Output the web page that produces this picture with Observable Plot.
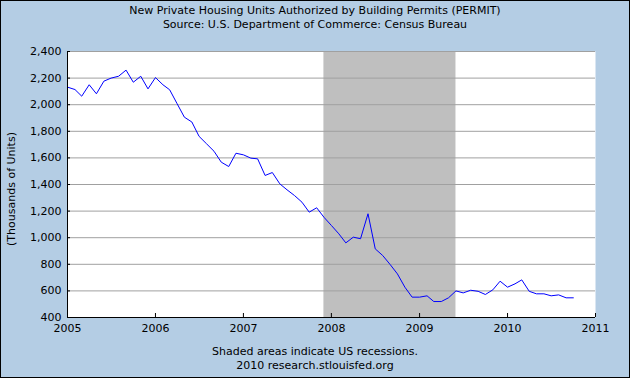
<!DOCTYPE html>
<html><head><meta charset="utf-8">
<script src="https://cdn.jsdelivr.net/npm/d3@7"></script>
<script src="https://cdn.jsdelivr.net/npm/@observablehq/plot@0.6"></script>
<style>
body{margin:0;background:#fff}
#wrap{position:relative;width:630px;height:378px;background:#b4cde4;font-family:"DejaVu Sans",sans-serif;overflow:hidden;color:#000}
#wrap svg{position:absolute;left:0;top:0}
.t{position:absolute;left:0;width:630px;text-align:center;font-size:11px;line-height:14px;white-space:nowrap}
#ylab{position:absolute;left:12px;top:189px;font-size:11px;line-height:14px;white-space:nowrap;transform:translate(-50%,-50%) rotate(-90deg)}
#border{position:absolute;left:0;top:0;width:630px;height:378px;box-sizing:border-box;border:1px solid #000;pointer-events:none}
</style>
</head><body>
<div id="wrap">
  <div class="t" style="top:4px">New Private Housing Units Authorized by Building Permits (PERMIT)</div>
  <div class="t" style="top:18px">Source: U.S. Department of Commerce: Census Bureau</div>
  <div class="t" style="top:345px">Shaded areas indicate US recessions.</div>
  <div class="t" style="top:359px">2010 research.stlouisfed.org</div>
  <div id="ylab">(Thousands of Units)</div>
  <div id="border"></div>
</div>
<script>
const startMonth = "2005-01-01";
const permits = [
  2132, 2114, 2064, 2150, 2082, 2177, 2200, 2214, 2260, 2169, 2214, 2119,
  2204, 2150, 2112, 2007, 1906, 1870, 1762, 1706, 1650, 1568, 1535, 1635,
  1623, 1598, 1593, 1468, 1490, 1405, 1360, 1317, 1267, 1192, 1225, 1154,
  1092, 1029, 961, 1004, 992, 1180, 916, 866, 798, 728, 628, 553,
  553, 563, 520, 520, 548, 600, 585, 605, 597, 573, 608, 673,
  628, 653, 683, 597, 578, 578, 563, 570, 548, 548
];
const recessionStart = ["2007-12-01"];
const recessionEnd = ["2009-06-01"];
const yTicks = [400, 600, 800, 1000, 1200, 1400, 1600, 1800, 2000, 2200, 2400];
const xTickYears = ["2005", "2006", "2007", "2008", "2009", "2010", "2011"];

const start = new Date(startMonth);
const data = permits.map((v, i) => ({date: d3.utcMonth.offset(start, i), value: v}));
const recessions = recessionStart.map((s, i) => ({start: new Date(s), end: new Date(recessionEnd[i])}));
const xTicks = xTickYears.map(y => new Date(y + "-01-01"));
const xDomain = [xTicks[0], xTicks[xTicks.length - 1]];
const yDomain = [yTicks[0], yTicks[yTicks.length - 1]];

const chart = Plot.plot({
  width: 630, height: 378,
  marginLeft: 67, marginRight: 35, marginTop: 51, marginBottom: 61,
  style: {background: "transparent", fontFamily: "DejaVu Sans", fontSize: "11px", color: "#000"},
  x: {type: "utc", domain: xDomain},
  y: {domain: yDomain},
  marks: [
    Plot.frame({fill: "white", stroke: null}),
    Plot.rect(recessions, {x1: "start", x2: "end", fill: "#bfbfbf"}),
    Plot.gridY(yTicks.slice(1), {stroke: "#a0a0a0", strokeOpacity: 1}),
    Plot.line(data, {x: "date", y: "value", stroke: "#0000ff", strokeWidth: 1}),
    Plot.ruleX([xDomain[0]], {stroke: "#000"}),
    Plot.ruleY([yDomain[0]], {stroke: "#000"}),
    Plot.axisY(yTicks, {tickSize: 0, tickPadding: 6, tickFormat: d3.format(","), label: null, fill: "#000"}),
    Plot.axisY(yTicks, {tickSize: -3, tickFormat: () => "", label: null, stroke: "#000"}),
    Plot.axisX(xTicks, {tickSize: 0, tickPadding: 7, tickFormat: d3.utcFormat("%Y"), label: null, fill: "#000"}),
    Plot.axisX(xTicks, {tickSize: -4, tickFormat: () => "", label: null, stroke: "#000"})
  ]
});
document.getElementById("wrap").insertBefore(chart, document.getElementById("border"));
</script>
</body></html>
